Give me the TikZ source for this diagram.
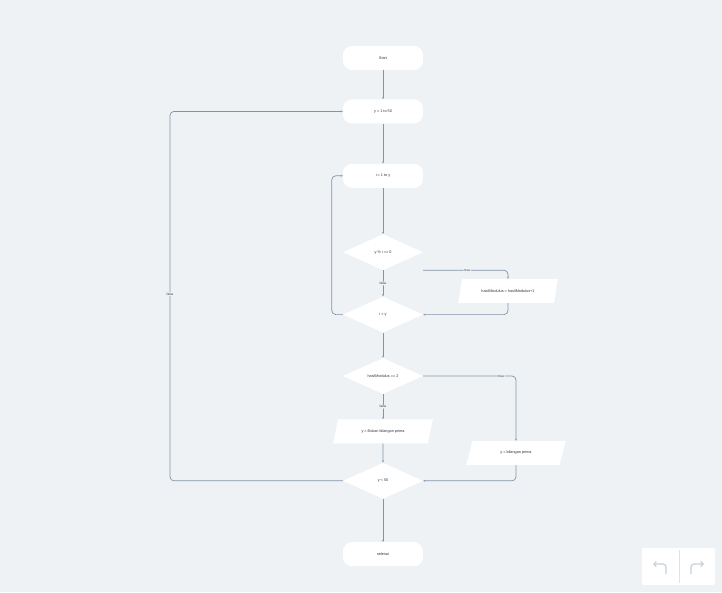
\documentclass[tikz,border=0pt]{standalone}
\usepackage{fontspec}
\setmainfont{Liberation Sans}
\usetikzlibrary{positioning, shapes.geometric, arrows.meta}
\definecolor{canvas}{HTML}{EEF2F5}
\definecolor{wire}{HTML}{8394AA}
\definecolor{ink}{HTML}{30343C}
\definecolor{faint}{HTML}{C9D0D8}

\begin{document}
\begin{tikzpicture}[x=1pt, y=-1pt, font=\fontsize{3.8}{4.6}\selectfont, text=ink]
    \tikzstyle{terminal} = [rectangle, rounded corners=9pt, fill=white, minimum width=80pt, minimum height=24pt];
    \tikzstyle{decision} = [diamond, fill=white, minimum width=80pt, minimum height=36pt, inner sep=0pt];
    \tikzstyle{io} = [trapezium, trapezium left angle=75, trapezium right angle=105, trapezium stretches=true, fill=white, minimum width=100pt, minimum height=24pt];
    \tikzstyle{line} = [draw=wire, line width=0.7pt, rounded corners=4pt, -{Stealth[length=2.2pt, width=1.8pt]}];
    \tikzstyle{lbl} = [fill=canvas, inner sep=0.8pt, font=\fontsize{3.2}{3.8}\selectfont];

    \fill[canvas] (0,0) rectangle (722,592);
    \useasboundingbox (0,0) rectangle (722,592);

    \node[terminal] at (383, 58) (start) {Start};
    \node[terminal, below = 29pt of start] (loopy) {y = 1 to 50};
    \node[terminal, below = 40pt of loopy] (loopi) {i = 1 to y};
    \node[decision, below = 46pt of loopi] (mod) {y \% i == 0};
    \node[decision, below = 26pt of mod] (less) {i < y};
    \node[decision, below = 25pt of less] (count) {hasilModulus == 2};
    \node[io, below = 25pt of count] (notprime) {y = Bukan bilangan prima};
    \node[decision, below = 19pt of notprime] (end) {y < 50};
    \node[terminal, below = 43pt of end] (done) {selesai};

    \node[io] at (508, 291) (inc) {hasilModulus = hasilModulus+1};
    \node[io] at (516, 453) (prime) {y = bilangan prima};
    \coordinate (back) at (170, 294);

    \draw[line] (start) -- (loopy);
    \draw[line] (loopy) -- (loopi);
    \draw[line] (loopi) -- (mod);
    \draw[line] ([yshift=-18pt]mod.east) -| node[lbl, pos=0.26] {true} (inc.north);
    \draw[line] (mod.south) -- node[lbl] {false} (less.north);
    \draw[line] (inc.south) |- (less.east);
    \draw[line] (less.west) -- ++(-11, 0) |- (loopi.west);
    \draw[line] (less) -- (count);
    \draw[line] (count.east) -| node[lbl, pos=0.42] {true} (prime.north);
    \draw[line] (count.south) -- node[lbl] {false} (notprime.north);
    \draw[line] (notprime) -- (end);
    \draw[line] (prime.south) |- (end.east);
    \draw[line] (end.west) -| (back) node[lbl] {false} |- (loopy.west);
    \draw[line] (end) -- (done);

    \fill[white, rounded corners=2pt] (642, 548) rectangle (715, 585);
    \draw[faint!60, line width=0.5pt] (679, 550) -- (679, 583);
    \draw[faint, line width=1.2pt, rounded corners=3pt, -{Straight Barb[length=2.5pt]}] (666, 574) -- (666, 564) -- (653, 564);
    \draw[faint, line width=1.2pt, rounded corners=3pt, -{Straight Barb[length=2.5pt]}] (691, 574) -- (691, 564) -- (704, 564);
\end{tikzpicture}
\end{document}
